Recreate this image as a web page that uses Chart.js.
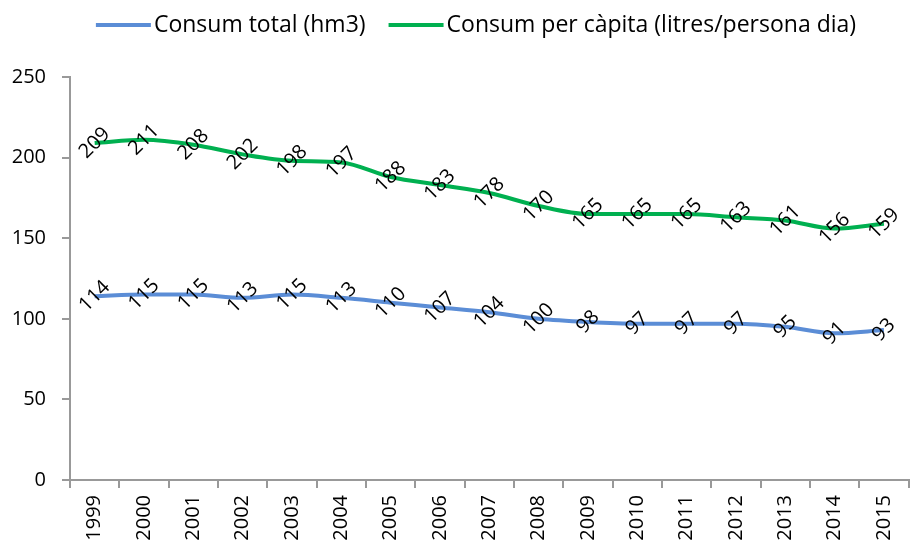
<!DOCTYPE html>
<html lang="ca">
<head>
<meta charset="UTF-8">
<title>Consum d'aigua</title>
<script src="https://cdn.jsdelivr.net/npm/chart.js"></script>
<style>
    body { margin: 0; background: #fff; }
    .chart-box { width: 915px; height: 542px; }
</style>
</head>
<body>
<div class="chart-box"><canvas id="myChart"></canvas></div>
<script>
    // chart data
    const years = ['1999', '2000', '2001', '2002', '2003', '2004', '2005', '2006', '2007',
        '2008', '2009', '2010', '2011', '2012', '2013', '2014', '2015'];
    const consumTotal = [114, 115, 115, 113, 115, 113, 110, 107, 104, 100, 98, 97, 97, 97, 95, 91, 93];
    const consumPerCapita = [209, 211, 208, 202, 198, 197, 188, 183, 178, 170, 165, 165, 165, 163, 161, 156, 159];
    const yTicks = [0, 50, 100, 150, 200, 250];

    const fontName = '"Open Sans", sans-serif';

    // draws the value on each point, turned 45 degrees
    const valueLabels = {
        id: 'valueLabels',
        afterDatasetsDraw(chart) {
            const ctx = chart.ctx;
            ctx.save();
            ctx.font = '20px ' + fontName;
            ctx.fillStyle = '#000';
            ctx.textAlign = 'center';
            ctx.textBaseline = 'middle';
            chart.data.datasets.forEach((ds, i) => {
                chart.getDatasetMeta(i).data.forEach((pt, j) => {
                    ctx.save();
                    ctx.translate(pt.x, pt.y);
                    ctx.rotate(-Math.PI / 4);
                    ctx.fillText(String(ds.data[j]), 0, 0);
                    ctx.restore();
                });
            });
            ctx.restore();
        }
    };

    // legend drawn by hand: short line right before the text
    const topLegend = {
        id: 'topLegend',
        afterDraw(chart) {
            const ctx = chart.ctx;
            const lineLen = 55, gap = 3, spacing = 23, y = 25;
            ctx.save();
            ctx.font = '23px ' + fontName;
            ctx.textBaseline = 'middle';
            ctx.textAlign = 'left';
            const items = chart.data.datasets.map(ds => ({
                text: ds.label, color: ds.borderColor, w: ctx.measureText(ds.label).width
            }));
            let total = items.reduce((s, it) => s + lineLen + gap + it.w, 0) + spacing * (items.length - 1);
            let x = 476 - total / 2;
            items.forEach(it => {
                ctx.strokeStyle = it.color;
                ctx.lineWidth = 4;
                ctx.beginPath();
                ctx.moveTo(x, y);
                ctx.lineTo(x + lineLen, y);
                ctx.stroke();
                ctx.fillStyle = '#000';
                ctx.fillText(it.text, x + lineLen + gap, y);
                x += lineLen + gap + it.w + spacing;
            });
            ctx.restore();
        }
    };

    const ctx = document.getElementById('myChart');
    let myChart = new Chart(ctx, {
        type: 'line',
        data: {
            labels: years,
            datasets: [{
                label: 'Consum total (hm3)',
                data: consumTotal,
                borderColor: '#5b8dd6',
                borderWidth: 4,
                pointRadius: 0,
                tension: 0.4,
                cubicInterpolationMode: 'monotone'
            }, {
                label: 'Consum per càpita (litres/persona dia)',
                data: consumPerCapita,
                borderColor: '#00b050',
                borderWidth: 4,
                pointRadius: 0,
                tension: 0.4,
                cubicInterpolationMode: 'monotone'
            }]
        },
        options: {
            responsive: true,
            maintainAspectRatio: false,
            animation: false,
            layout: { padding: { top: 77, right: 3, left: 0, bottom: 0 } },
            scales: {
                x: {
                    offset: true,
                    grid: { offset: true, drawOnChartArea: false, tickLength: 8, color: '#999', lineWidth: 2 },
                    border: { color: '#999', width: 2 },
                    ticks: {
                        color: '#000', font: { family: fontName, size: 20 },
                        minRotation: 90, maxRotation: 90, autoSkip: false, padding: 7
                    },
                    afterFit(scale) { scale.height = 62; }
                },
                y: {
                    min: 0, max: 250,
                    afterBuildTicks(scale) { scale.ticks = yTicks.map(v => ({ value: v })); },
                    grid: { drawOnChartArea: false, tickLength: 8, color: '#999', lineWidth: 2 },
                    border: { color: '#999', width: 2 },
                    ticks: { color: '#000', font: { family: fontName, size: 20 }, padding: 16 },
                    afterFit(scale) { scale.width = 70; }
                }
            },
            plugins: {
                legend: { display: false },
                tooltip: { enabled: false }
            }
        },
        plugins: [valueLabels, topLegend]
    });
</script>
</body>
</html>
